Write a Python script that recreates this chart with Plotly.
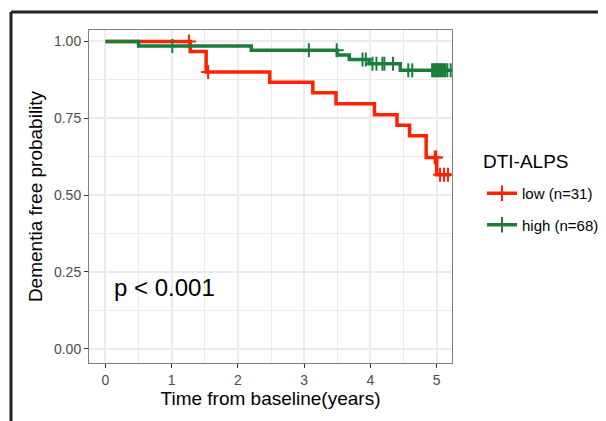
import numpy as np
import plotly.graph_objects as go

# ---- data ----
groups = ["low (n=31)", "high (n=68)"]
legend_title = "DTI-ALPS"

low_event_times = [0.0, 1.28, 1.52, 2.48, 3.13, 3.48, 4.06, 4.40, 4.59, 4.84, 5.00]
low_surv = [1.0, 0.967, 0.900, 0.867, 0.833, 0.797, 0.761, 0.727, 0.693, 0.622, 0.566]
low_end = 5.21
low_censor = [1.26, 1.55, 4.97, 4.99, 5.05, 5.11, 5.17]

high_event_times = [0.0, 0.50, 2.20, 3.50, 3.68, 3.98, 4.45]
high_surv = [1.0, 0.985, 0.971, 0.956, 0.941, 0.927, 0.906]
high_end = 5.22
high_censor = [1.01, 3.07, 3.49, 3.88, 3.93, 4.03, 4.09, 4.18, 4.21, 4.34, 4.57, 4.63,
               4.93, 4.95, 4.97, 4.99, 5.01, 5.03, 5.05, 5.07, 5.09, 5.11, 5.13, 5.16, 5.21]

x_ticks = [0, 1, 2, 3, 4, 5]
y_ticks = [0.0, 0.25, 0.5, 0.75, 1.0]
y_tick_labels = ["0.00", "0.25", "0.50", "0.75", "1.00"]
pval_text = "p < 0.001"

colors = ["#FF2200", "#1A7D3C"]
FONT = "Liberation Sans, Arial, sans-serif"


def step_xy(times, surv, end):
    return list(times) + [end], list(surv) + [surv[-1]]


def censor_y(times, surv, cens):
    idx = np.searchsorted(np.array(times), np.array(cens), side="right") - 1
    return [surv[i] for i in idx]


fig = go.Figure()
series = [
    (low_event_times, low_surv, low_end, low_censor),
    (high_event_times, high_surv, high_end, high_censor),
]
for (t, s, e, c), col in zip(series, colors):
    xs, ys = step_xy(t, s, e)
    fig.add_trace(go.Scatter(x=xs, y=ys, mode="lines", line=dict(color=col, width=3.5, shape="hv"),
                             showlegend=False, hoverinfo="skip"))
    fig.add_trace(go.Scatter(x=c, y=censor_y(t, s, c), mode="markers",
                             marker=dict(symbol="cross-thin-open", size=10, color=col,
                                         line=dict(color=col, width=2)),
                             showlegend=False, hoverinfo="skip"))

# legend entries
for i, (name, col) in enumerate(zip(groups, colors)):
    fig.add_trace(go.Scatter(x=[None], y=[None], mode="lines+markers", name=name,
                             legendgroup=f"g{i}",
                             line=dict(color=col, width=3.5),
                             marker=dict(symbol="cross-thin-open", size=11, color=col,
                                         line=dict(color=col, width=2))))

# page has an 8px body margin: figure sized so it ends at the window edge
OFF = 8
W, H = 606 - OFF, 421 - OFF
L, T = 89 - OFF, 30 - OFF
R, B = 606 - 452, 421 - 363
pw, ph = W - L - R, H - T - B


def px_x(p):  # screen pixel -> paper
    return (p - OFF - L) / pw


def px_y(p):
    return (H - B - (p - OFF)) / ph


# outer dark frame (top and left edges visible in reference)
fig.add_shape(type="line", xref="paper", yref="paper",
              x0=px_x(11), x1=px_x(620), y0=px_y(12), y1=px_y(12),
              line=dict(color="#222222", width=3))
fig.add_shape(type="line", xref="paper", yref="paper",
              x0=px_x(11), x1=px_x(11), y0=px_y(12), y1=px_y(440),
              line=dict(color="#222222", width=3))

fig.add_annotation(x=0.1, y=0.2, xref="x", yref="y", text=pval_text, showarrow=False,
                   xanchor="left", yanchor="middle",
                   font=dict(family=FONT, size=24, color="black"))

fig.add_annotation(x=px_x(481), y=px_y(161), xref="paper", yref="paper", text=legend_title,
                   showarrow=False, xanchor="left", yanchor="middle",
                   font=dict(family=FONT, size=19, color="black"))

grid = "#EBEBEB"
fig.update_layout(
    width=W, height=H,
    margin=dict(l=L, r=R, t=T, b=B, pad=0, autoexpand=False),
    paper_bgcolor="white", plot_bgcolor="white",
    font=dict(family=FONT),
    legend=dict(
        x=px_x(482), y=px_y(177), xanchor="left", yanchor="top",
        font=dict(size=15, color="black", family=FONT),
        tracegroupgap=9, bgcolor="rgba(0,0,0,0)",
    ),
    xaxis=dict(
        range=[-0.248, 5.23], tickvals=x_ticks, ticktext=[str(v) for v in x_ticks],
        automargin=False,
        showgrid=True, gridcolor=grid, gridwidth=1.5, zeroline=False,
        minor=dict(dtick=0.5, tick0=0, showgrid=True, gridcolor=grid, gridwidth=0.8, ticks=""),
        showline=True, mirror=True, linecolor="#808080", linewidth=1,
        ticks="outside", ticklen=4, tickwidth=1.2, tickcolor="#333333",
        tickfont=dict(size=14, color="#4D4D4D", family=FONT),
        title=dict(text="Time from baseline(years)", font=dict(size=19, color="black", family=FONT),
                   standoff=2),
    ),
    yaxis=dict(
        range=[-0.046, 1.037], tickvals=y_ticks, ticktext=y_tick_labels,
        automargin=False,
        showgrid=True, gridcolor=grid, gridwidth=1.5, zeroline=False,
        minor=dict(dtick=0.125, tick0=0, showgrid=True, gridcolor=grid, gridwidth=0.8, ticks=""),
        showline=True, mirror=True, linecolor="#808080", linewidth=1,
        ticks="outside", ticklen=4, tickwidth=1.2, tickcolor="#333333",
        tickfont=dict(size=14, color="#4D4D4D", family=FONT),
        title=dict(text="Dementia free probability", font=dict(size=19, color="black", family=FONT),
                   standoff=6),
    ),
)

fig.write_html("out.html")
